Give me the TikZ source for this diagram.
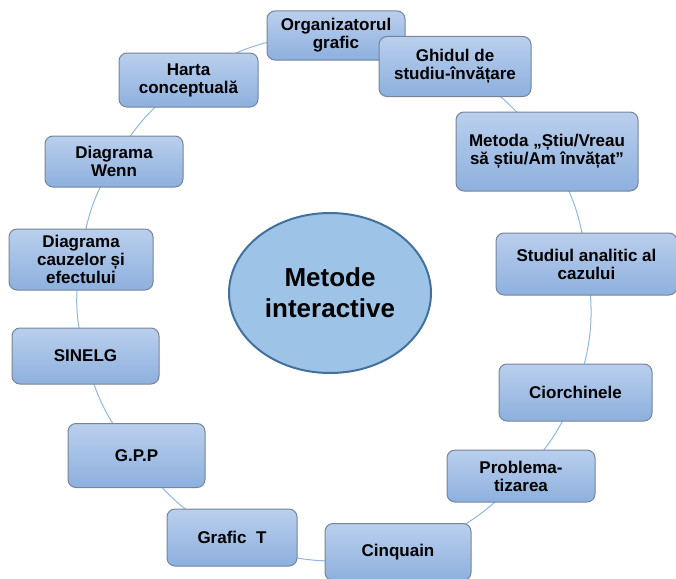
\documentclass[tikz,border=0pt]{standalone}
\usepackage{fontspec}
\setmainfont{Liberation Sans}
\usetikzlibrary{shapes.geometric}
\pgfdeclarelayer{background}
\pgfsetlayers{background,main}
\definecolor{boxtop}{RGB}{186,207,237}
\definecolor{boxbot}{RGB}{141,176,222}
\definecolor{boxline}{RGB}{118,132,152}
\definecolor{ellfill}{RGB}{157,195,230}
\definecolor{ellline}{RGB}{65,113,156}
\definecolor{conn}{RGB}{143,183,226}
\tikzset{
  box/.style={draw=boxline, line width=1pt, rounded corners=8pt, top color=boxtop, bottom color=boxbot,
    align=center, inner sep=0pt, font=\fontsize{17}{18}\selectfont\bfseries, text=black},
  hub/.style={ellipse, draw=ellline, line width=2pt, fill=ellfill, inner sep=0pt,
    minimum width=202pt, minimum height=160pt, align=center,
    font=\fontsize{26}{31}\selectfont\bfseries},
  link/.style={draw=conn, line width=1pt}
}
\begin{document}
\begin{tikzpicture}[x=1pt,y=-1pt]
\useasboundingbox (0,0) rectangle (676,578);
\node[hub] (c) at (330,293) {Metode\\interactive};
\node[box, minimum width=138pt, minimum height=49pt] (org) at (336,35.5) {Organizatorul\\grafic};
\node[box, minimum width=152pt, minimum height=60pt] (ghid) at (455,66.5) {Ghidul de\\studiu-învățare};
\node[box, minimum width=139pt, minimum height=54pt] (harta) at (188.5,80) {Harta\\conceptuală};
\node[box, minimum width=182pt, minimum height=79pt] (metoda) at (547,151.5) {Metoda „Știu/Vreau\\să știu/Am învățat”};
\node[box, minimum width=138pt, minimum height=51pt] (wenn) at (114,161.5) {Diagrama\\Wenn};
\node[box, minimum width=181pt, minimum height=62pt] (studiu) at (586.5,264) {Studiul analitic al\\cazului};
\node[box, minimum width=144pt, minimum height=61pt] (cauze) at (81,259.5) {Diagrama\\cauzelor și\\efectului};
\node[box, minimum width=147pt, minimum height=56pt] (sinelg) at (85.5,356) {SINELG};
\node[box, minimum width=153pt, minimum height=57pt] (ciorch) at (575.5,392.5) {Ciorchinele};
\node[box, minimum width=137pt, minimum height=64pt] (gpp) at (136.5,455.5) {G.P.P};
\node[box, minimum width=148pt, minimum height=52pt] (probl) at (521,476) {Problema-\\tizarea};
\node[box, minimum width=130pt, minimum height=57pt] (graficT) at (232,537.5) {Grafic\ \ T};
\node[box, minimum width=146pt, minimum height=57pt] (cinq) at (398,552) {Cinquain};
\begin{pgfonlayer}{background}
\draw[link] (org.center) to[bend left=13.7] (ghid.center);
\draw[link] (ghid.center) to[bend left=14] (metoda.center);
\draw[link] (metoda.center) to[bend left=13.5] (studiu.center);
\draw[link] (studiu.center) to[bend left=14.4] (ciorch.center);
\draw[link] (ciorch.center) to[bend left=11] (probl.center);
\draw[link] (probl.center) to[bend left=16] (cinq.center);
\draw[link] (cinq.center) to[bend left=18.5] (graficT.center);
\draw[link] (graficT.center) to[bend left=14] (gpp.center);
\draw[link] (gpp.center) to[bend left=12.7] (sinelg.center);
\draw[link] (sinelg.center) to[bend left=13] (cauze.center);
\draw[link] (cauze.center) to[bend left=12] (wenn.center);
\draw[link] (wenn.center) to[bend left=12] (harta.center);
\draw[link] (harta.center) to[bend left=17.4] (org.center);
\end{pgfonlayer}
\end{tikzpicture}
\end{document}
